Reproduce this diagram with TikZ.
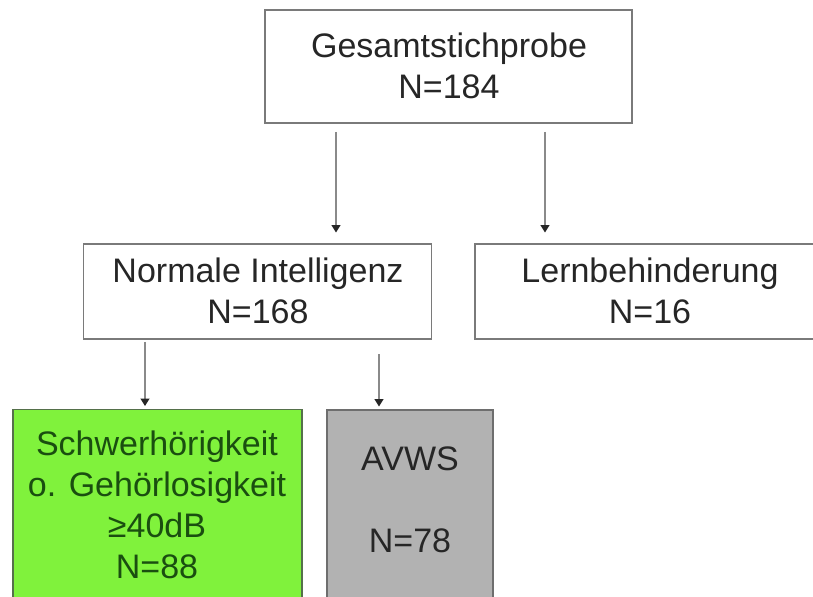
\documentclass[tikz,border=0pt]{standalone}
\usepackage{fontspec}
\setmainfont{Liberation Sans}
\usetikzlibrary{arrows.meta}

\definecolor{boxline}{HTML}{7A7A7A}
\definecolor{inktext}{HTML}{262626}
\definecolor{limefill}{HTML}{80F23C}
\definecolor{limeline}{HTML}{55704A}
\definecolor{limetext}{HTML}{1A4E10}
\definecolor{greyfill}{HTML}{B2B2B2}
\definecolor{greyline}{HTML}{6E6E6E}
\definecolor{flowline}{HTML}{8A8A8A}

\tikzset{
  box/.style={draw=boxline, line width=1.2pt, fill=white, inner sep=0pt},
  txt/.style={font=\fontsize{25.5pt}{30.75pt}\selectfont, text=inktext, align=center, inner sep=0pt},
  flow/.style={draw=flowline, line width=1.1pt,
    -{Triangle[length=5.5pt,width=6.5pt,color=black!85]}}
}

\begin{document}
\begin{tikzpicture}[x=0.75pt,y=-0.75pt]
\useasboundingbox (0,0) rectangle (813,596);
\clip (0,0) rectangle (813,596);
\fill[white] (0,0) rectangle (813,596);

% boxes (sizes in pt, 1px = 0.75pt)
\node[box, minimum width=275.25pt, minimum height=84.75pt] (top) at (448.5,66.5) {};
\node[box, minimum width=261pt, minimum height=71.25pt] (nl) at (257.5,291.5) {};
\node[box, minimum width=262.5pt, minimum height=71.25pt] (lb) at (650,291.5) {};
\node[box, draw=limeline, fill=limefill, minimum width=216.75pt, minimum height=158.25pt] (sh) at (157.5,515) {};
\node[box, draw=greyline, fill=greyfill, minimum width=124.5pt, minimum height=157.5pt] (av) at (410,515) {};

% texts
\node[txt] (toptext) at (449,66) {Gesamtstichprobe\\N=184};
\node[txt] (nltext) at (258,291) {Normale Intelligenz\\N=168};
\node[txt] (lbtext) at (650,291) {Lernbehinderung\\N=16};
\node[txt, text=limetext] (shtext) at (157,505) {Schwerhörigkeit\\o. Gehörlosigkeit\\≥40dB\\N=88};
\node[txt] (avtext) at (410,500) {AVWS\\\mbox{}\\N=78};

% arrow columns
\coordinate (c1) at (336,0);
\coordinate (c2) at (545,0);
\coordinate (c3) at (145,0);
\coordinate (c4) at (379,0);

\draw[flow, shorten <=6pt, shorten >=8pt] (top.south -| c1) -- (nl.north -| c1);
\draw[flow, shorten <=6pt, shorten >=8pt] (top.south -| c2) -- (lb.north -| c2);
\draw[flow, shorten <=1.5pt, shorten >=2pt] (nl.south -| c3) -- (sh.north -| c3);
\draw[flow, shorten <=11pt, shorten >=2pt] (nl.south -| c4) -- (av.north -| c4);
\end{tikzpicture}
\end{document}
